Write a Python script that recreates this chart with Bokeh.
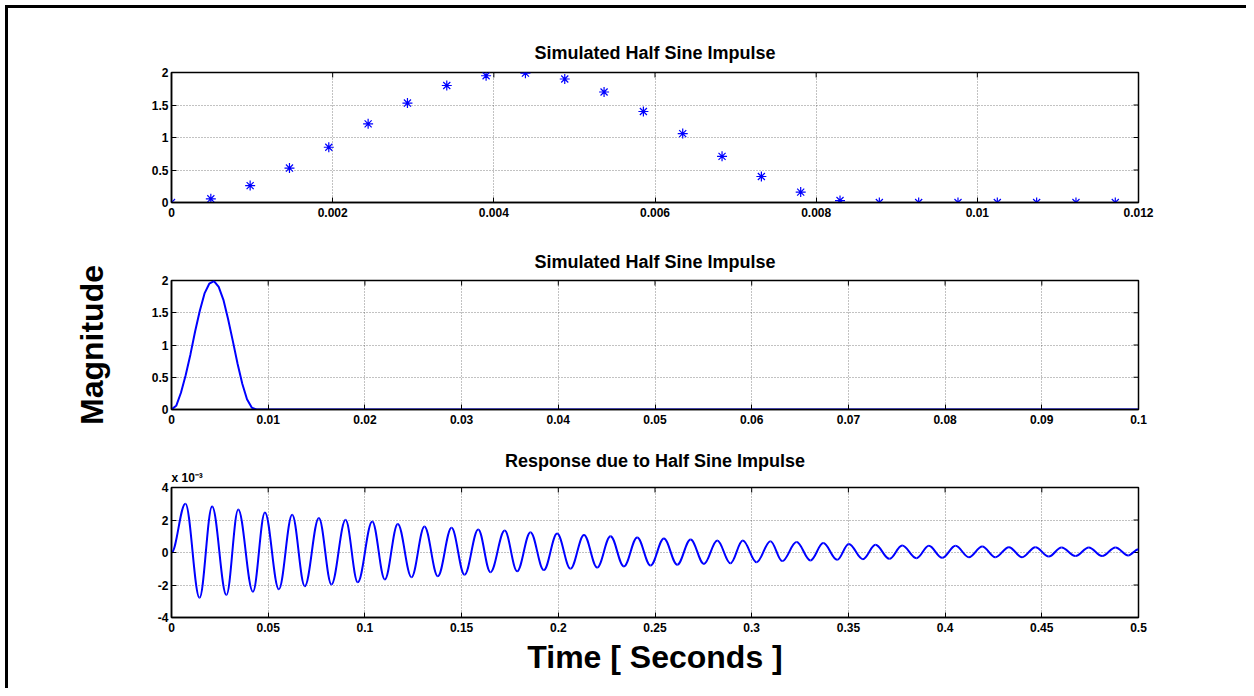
import math
from bokeh.plotting import figure
from bokeh.layouts import column
from bokeh.models import FixedTicker, Range1d, Title
from bokeh.embed import file_html
from bokeh.resources import INLINE

FONT = "Liberation Sans"
BLUE = "#0000ff"

# ---------------- data ----------------
# sampled half-sine impulse (sample spacing read from the chart)
dt = 0.000488
pulse_vals = [0.0, 0.057, 0.26, 0.53, 0.85, 1.21, 1.53, 1.80, 1.95, 1.99,
              1.90, 1.70, 1.40, 1.06, 0.71, 0.40, 0.16, 0.03,
              0.0, 0.0, 0.0, 0.0, 0.0, 0.0, 0.0]
pulse_t = [i * dt for i in range(len(pulse_vals))]

# tail of the impulse trace in the middle panel (stays at zero)
tail_t = [0.1]
tail_vals = [0.0]

# response: extrema (time [s], value [x 1e-3])
resp_t = [0.0, 0.0072, 0.0145, 0.0210, 0.0284, 0.0345, 0.0421, 0.0483, 0.0555,
          0.0624, 0.0689, 0.0762, 0.0827, 0.0900, 0.0963, 0.1038, 0.1103,
          0.1170, 0.1241, 0.1308, 0.1377, 0.1448, 0.1515, 0.1586, 0.1649,
          0.1723, 0.1787, 0.1856, 0.1925, 0.1994, 0.2063, 0.2133, 0.2201,
          0.2270, 0.2339, 0.2408, 0.2477, 0.2546, 0.2615, 0.2684, 0.2753,
          0.2822, 0.2890, 0.2954, 0.3025, 0.3097, 0.3158, 0.3232, 0.3304,
          0.3370, 0.3442, 0.3502, 0.3575, 0.3640, 0.3712, 0.3778, 0.3852,
          0.3916, 0.3985, 0.4054, 0.4123, 0.4192, 0.4260, 0.4330, 0.4398,
          0.4467, 0.4536, 0.4602, 0.4674, 0.4743, 0.4812, 0.4881, 0.4947, 0.5]
resp_vals = [0.0, 3.00, -2.79, 2.83, -2.62, 2.65, -2.42, 2.46, -2.26,
             2.32, -2.07, 2.13, -1.97, 2.01, -1.83, 1.91, -1.66,
             1.76, -1.52, 1.60, -1.46, 1.52, -1.37, 1.42, -1.21,
             1.35, -1.15, 1.25, -1.08, 1.17, -1.00, 1.08, -0.93,
             1.00, -0.86, 0.93, -0.80, 0.86, -0.75, 0.80, -0.70,
             0.74, -0.66, 0.74, -0.60, 0.70, -0.53, 0.64, -0.49,
             0.58, -0.45, 0.53, -0.41, 0.47, -0.39, 0.43, -0.35,
             0.41, -0.33, 0.41, -0.29, 0.37, -0.29, 0.33, -0.29,
             0.33, -0.25, 0.31, -0.21, 0.31, -0.21, 0.31, -0.18, 0.20]

# ticks
x1_ticks = [0, 0.002, 0.004, 0.006, 0.008, 0.01, 0.012]
x1_labels = ["0", "0.002", "0.004", "0.006", "0.008", "0.01", "0.012"]
x2_ticks = [0, 0.01, 0.02, 0.03, 0.04, 0.05, 0.06, 0.07, 0.08, 0.09, 0.1]
x2_labels = ["0", "0.01", "0.02", "0.03", "0.04", "0.05", "0.06", "0.07", "0.08", "0.09", "0.1"]
x3_ticks = [0, 0.05, 0.1, 0.15, 0.2, 0.25, 0.3, 0.35, 0.4, 0.45, 0.5]
x3_labels = ["0", "0.05", "0.1", "0.15", "0.2", "0.25", "0.3", "0.35", "0.4", "0.45", "0.5"]
y12_ticks = [0, 0.5, 1, 1.5, 2]
y12_labels = ["0", "0.5", "1", "1.5", "2"]
y3_ticks = [-4, -2, 0, 2, 4]
y3_labels = ["-4", "-2", "0", "2", "4"]

titles = ["Simulated Half Sine Impulse", "Simulated Half Sine Impulse",
          "Response due to Half Sine Impulse"]
y_label = "Magnitude"
x_label = "Time [ Seconds ]"
y3_multiplier = "x 10\u207b\u00b3"

W = 1238
LEFT, RIGHT = 163, 108


def make_fig(title, height, top, bottom, xr, yr, xt, xl, yt, yl, title_standoff):
    p = figure(width=W, height=height, output_backend="svg", toolbar_location=None,
               x_range=Range1d(*xr), y_range=Range1d(*yr),
               min_border_left=LEFT, min_border_right=RIGHT,
               min_border_top=top, min_border_bottom=bottom,
               title=title)
    p.title.align = "center"
    p.title.text_font = FONT
    p.title.text_font_size = "18px"
    p.title.text_font_style = "bold"
    p.title.text_color = "black"
    p.title.standoff = title_standoff
    p.outline_line_color = "black"
    p.outline_line_width = 1.5
    p.outline_line_alpha = 1
    xtick = FixedTicker(ticks=xt)
    ytick = FixedTicker(ticks=yt)
    xax = p.xaxis[0]
    yax = p.yaxis[0]
    xax.ticker = xtick
    yax.ticker = ytick
    p.xgrid.ticker = xtick
    p.ygrid.ticker = ytick
    xax.major_label_overrides = {t: s for t, s in zip(xt, xl)}
    yax.major_label_overrides = {t: s for t, s in zip(yt, yl)}
    for ax in (xax, yax):
        ax.major_label_text_font = FONT
        ax.major_label_text_font_size = "12px"
        ax.major_label_text_font_style = "bold"
        ax.major_label_text_color = "black"
        ax.axis_line_color = "black"
        ax.axis_line_width = 1.5
        ax.major_tick_in = 5
        ax.major_tick_out = 0
        ax.major_tick_line_color = "black"
        ax.minor_tick_line_color = None
    xax.major_label_standoff = 5
    yax.major_label_standoff = 3
    for g in (p.xgrid[0], p.ygrid[0]):
        g.grid_line_color = "#333333"
        g.grid_line_alpha = 0.6
        g.grid_line_dash = "1 2"
        g.grid_line_width = 1
    # inward ticks on the top and right edges of the box (clipped to the frame)
    p.scatter(x=xt, y=[yr[1]] * len(xt), marker="dash", angle=math.pi / 2,
              size=10, line_color="black", line_width=1)
    p.scatter(x=[xr[1]] * len(yt), y=yt, marker="dash",
              size=10, line_color="black", line_width=1)
    p.background_fill_color = "white"
    p.border_fill_color = "white"
    return p, xax, yax


p1, p1x, p1y = make_fig(titles[0], 233, 64, 39, (0, 0.012), (0, 2),
                        x1_ticks, x1_labels, y12_ticks, y12_labels, 19)
p1.scatter(pulse_t, pulse_vals, marker="asterisk", size=10, line_color=BLUE, line_width=1.2)

p2, p2x, p2y = make_fig(titles[1], 207, 39, 39, (0, 0.1), (0, 2),
                        x2_ticks, x2_labels, y12_ticks, y12_labels, 17)
p2.line(pulse_t + tail_t, pulse_vals + tail_vals, line_color=BLUE, line_width=2)
p2y.axis_label = y_label
p2y.axis_label_text_font = FONT
p2y.axis_label_text_font_size = "32px"
p2y.axis_label_text_font_style = "bold"
p2y.axis_label_text_color = "black"
p2y.axis_label_standoff = 39

p3, p3x, p3y = make_fig(titles[2], 240, 39, 71, (0, 0.5), (-4, 4),
                        x3_ticks, x3_labels, y3_ticks, y3_labels, -8)
k = 0.3634
x0 = resp_t[:-1]
x1 = resp_t[1:]
y0 = resp_vals[:-1]
y1 = resp_vals[1:]
cx0 = [a + k * (b - a) for a, b in zip(x0, x1)]
cx1 = [b - k * (b - a) for a, b in zip(x0, x1)]
p3.bezier(x0=x0, y0=y0, x1=x1, y1=y1, cx0=cx0, cy0=y0, cx1=cx1, cy1=y1,
          line_color=BLUE, line_width=2)
p3x.axis_label = x_label
p3x.axis_label_text_font = FONT
p3x.axis_label_text_font_size = "32px"
p3x.axis_label_text_font_style = "bold"
p3x.axis_label_text_color = "black"
p3x.axis_label_standoff = 4

p3.add_layout(Title(text=y3_multiplier, align="left", text_font=FONT,
                    text_font_size="12px", text_font_style="bold",
                    text_color="black", standoff=5), "above")

layout = column(p1, p2, p3, styles={"border-left": "3px solid black",
                                    "border-top": "3px solid black",
                                    "margin-left": "5px",
                                    "margin-top": "5px"})

open("out.html", "w").write(file_html(layout, INLINE))
